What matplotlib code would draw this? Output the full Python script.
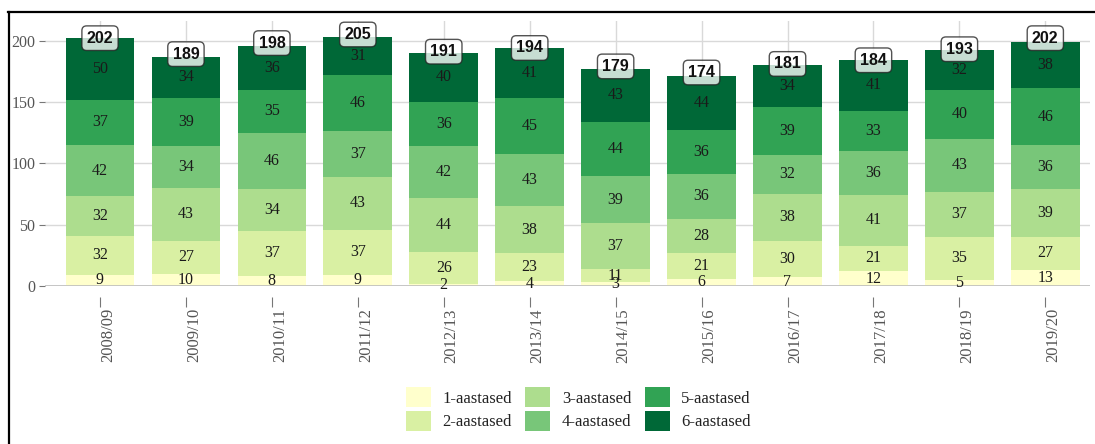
import matplotlib
matplotlib.use("Agg")
import matplotlib.pyplot as plt
from matplotlib.lines import Line2D
from matplotlib.patches import Patch
from matplotlib.transforms import ScaledTranslation
import numpy as np

years = ["2008/09", "2009/10", "2010/11", "2011/12", "2012/13", "2013/14",
         "2014/15", "2015/16", "2016/17", "2017/18", "2018/19", "2019/20"]
series_names = ["1-aastased", "2-aastased", "3-aastased", "4-aastased", "5-aastased", "6-aastased"]
s1 = [9, 10, 8, 9, 2, 4, 3, 6, 7, 12, 5, 13]
s2 = [32, 27, 37, 37, 26, 23, 11, 21, 30, 21, 35, 27]
s3 = [32, 43, 34, 43, 44, 38, 37, 28, 38, 41, 37, 39]
s4 = [42, 34, 46, 37, 42, 43, 39, 36, 32, 36, 43, 36]
s5 = [37, 39, 35, 46, 36, 45, 44, 36, 39, 33, 40, 46]
s6 = [50, 34, 36, 31, 40, 41, 43, 44, 34, 41, 32, 38]
totals = [202, 189, 198, 205, 191, 194, 179, 174, 181, 184, 193, 202]
colors = ["#ffffcc", "#d9f0a3", "#addd8e", "#78c679", "#31a354", "#006837"]

series = [s1, s2, s3, s4, s5, s6]

fig = plt.figure(figsize=(10.95, 4.44), dpi=100)
ax = fig.add_axes([45/1095, 1-286/444, (1090-45)/1095, (286-21)/444])

x = np.arange(len(years))
bottom = np.zeros(len(years))
serif = "Liberation Serif"
for vals, col, name in zip(series, colors, series_names):
    v = np.array(vals, dtype=float)
    ax.bar(x, v, bottom=bottom, width=0.8, color=col, zorder=2, label=name, linewidth=0)
    for xi, b, h in zip(x, bottom, v):
        ax.text(xi, b + h/2, f"{int(h)}", ha="center", va="center",
                fontsize=11.5, family=serif, color="#1a1a1a", zorder=4)
    bottom += v

for xi, t in zip(x, totals):
    ax.text(xi, t, f"{t}", ha="center", va="center", fontsize=11.5, fontweight="bold",
            family="Liberation Sans", color="#111111", zorder=5,
            bbox=dict(boxstyle="round,pad=0.3,rounding_size=0.3", fc="white", alpha=0.78,
                      ec="#222222", lw=1))

ax.set_xlim(-0.64, 11.52)
ax.set_ylim(0, 216)
ax.set_yticks([0, 50, 100, 150, 200])
ax.set_xticks(x)
ax.set_xticklabels(years)
ax.grid(True, color="#d9d9d9", lw=1, zorder=0)
ax.set_axisbelow(True)
for sp in ["top", "right", "left", "bottom"]:
    ax.spines[sp].set_visible(False)
ax.spines["bottom"].set_position(("outward", 8))
ax.axhline(0, color="#bdbdbd", lw=1.2, zorder=3)
ax.tick_params(axis="y", length=4, color="#777777", labelcolor="#555555", labelsize=11.5, pad=3)
ax.tick_params(axis="x", length=7, color="#777777", labelcolor="#555555", labelsize=12,
               pad=1, labelrotation=90)
offset = ScaledTranslation(8/100, 0, fig.dpi_scale_trans)
for lab in ax.get_xticklabels():
    lab.set_family(serif)
    lab.set_transform(lab.get_transform() + offset)
for lab in ax.get_yticklabels():
    lab.set_family(serif)

handles = [Patch(facecolor=c, edgecolor="none") for c in colors]
leg = fig.legend(handles, series_names, loc="center", bbox_to_anchor=(0.528, 0.079), ncol=3,
                 frameon=False, prop={"family": serif, "size": 12},
                 handlelength=1.5, handleheight=1.5, labelspacing=0.2,
                 handletextpad=0.7, columnspacing=0.8, borderpad=0)
for t in leg.get_texts():
    t.set_color("#222222")

fig.add_artist(Line2D([8/1095, 1], [1-12.5/444, 1-12.5/444], color="black", lw=1.6))
fig.add_artist(Line2D([8.5/1095, 8.5/1095], [0, 1-12/444], color="black", lw=1.6))

fig.savefig("out.png", dpi=100)
